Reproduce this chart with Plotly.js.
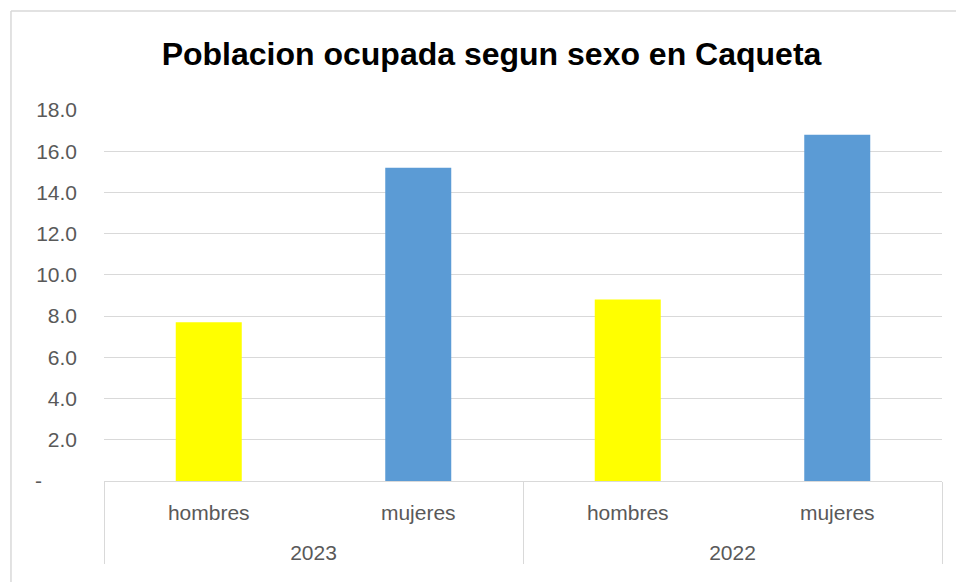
<!DOCTYPE html>
<html>
<head>
<meta charset="utf-8">
<script src="https://cdn.plot.ly/plotly-3.0.1.min.js"></script>
<style>html,body{margin:0;padding:0;background:#fff;}#chart{width:956px;height:582px;}</style>
</head>
<body>
<div id="chart"></div>
<script>
const years = ['2023', '2023', '2022', '2022'];
const sexes = ['hombres', 'mujeres', 'hombres', 'mujeres'];
const values = [7.7, 15.2, 8.8, 16.8];
const barColors = ['#FFFF00', '#5B9BD5', '#FFFF00', '#5B9BD5'];
const yTickVals = [0, 2, 4, 6, 8, 10, 12, 14, 16, 18];
const yTickText = ['-\u00a0\u00a0\u00a0\u00a0\u00a0\u00a0', '2.0', '4.0', '6.0', '8.0', '10.0', '12.0', '14.0', '16.0', '18.0'];
const titleText = 'Poblacion ocupada segun sexo en Caqueta';

const textColor = '#595959';
const gridColor = '#d9d9d9';

// outer level pushed one line lower so it sits below the inner labels
const yearLabels = years.map(y => '<br>' + y);

const trace = {
  type: 'bar',
  x: [yearLabels, sexes],
  y: values,
  marker: {color: barColors},
  hoverinfo: 'none'
};

const layout = {
  width: 956,
  height: 582,
  margin: {l: 104, r: 14, t: 110, b: 101},
  paper_bgcolor: '#ffffff',
  plot_bgcolor: '#ffffff',
  font: {family: 'Liberation Sans, Arial, sans-serif', size: 21, color: textColor},
  title: {
    text: '<b>' + titleText + '</b>',
    font: {family: 'Liberation Sans, Arial, sans-serif', size: 32, color: '#000000'},
    x: 491.5 / 956, xanchor: 'center', xref: 'container',
    y: 1 - 54 / 582, yanchor: 'middle', yref: 'container'
  },
  bargap: 0.685,
  showlegend: false,
  xaxis: {
    type: 'multicategory',
    showline: true,
    linecolor: gridColor,
    linewidth: 1,
    showdividers: true,
    dividercolor: gridColor,
    dividerwidth: 1,
    ticks: '',
    showgrid: false,
    ticklabelstandoff: 13,
    tickfont: {size: 21, color: textColor}
  },
  yaxis: {
    range: [0, 18],
    tickmode: 'array',
    tickvals: yTickVals,
    ticktext: yTickText,
    showgrid: true,
    gridcolor: gridColor,
    gridwidth: 1,
    zeroline: false,
    showline: false,
    ticks: '',
    ticklabelstandoff: 26,
    tickfont: {size: 21, color: textColor}
  },
  shapes: [
    {type: 'line', xref: 'paper', yref: 'paper', x0: -0.111, x1: -0.111, y0: 1.2668, y1: -0.4, line: {color: gridColor, width: 1.5}},
    {type: 'line', xref: 'paper', yref: 'paper', x0: -0.111, x1: 1.03, y0: 1.2668, y1: 1.2668, line: {color: gridColor, width: 1.5}}
  ]
};

Plotly.newPlot('chart', [trace], layout, {displayModeBar: false, staticPlot: true});
</script>
</body>
</html>
